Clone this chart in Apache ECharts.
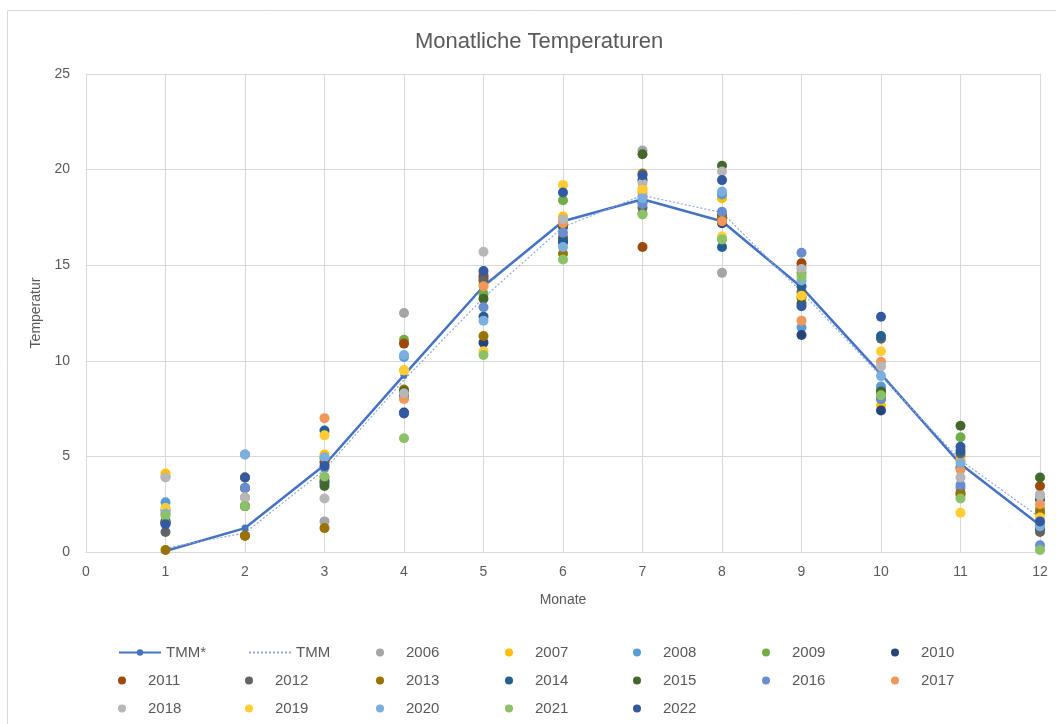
<!DOCTYPE html>
<html>
<head>
<meta charset="utf-8">
<script src="https://cdn.jsdelivr.net/npm/echarts@6/dist/echarts.min.js"></script>
<style>html,body{margin:0;padding:0;background:#fff;}#c{width:1056px;height:724px;}</style>
</head>
<body>
<div id="c"></div>
<script>
const months = [1,2,3,4,5,6,7,8,9,10,11,12];
const tmmStar = [0.05, 1.25, 4.55, 9.25, 13.9, 17.3, 18.45, 17.3, 13.85, 9.3, 4.6, 1.4];
const tmm     = [0.2, 1.0, 4.3, 9.0, 13.3, 17.0, 18.65, 17.75, 13.6, 9.2, 4.8, 1.8];

const y2006 = [3.95, 2.85, 1.6, 12.5, 14.3, 17.3, 21.0, 14.6, 14.9, 8.5, 5.0, 3.0];
const y2007 = [4.1, 3.35, 5.1, 9.5, 14.0, 17.55, 19.0, 18.5, 13.45, 7.65, 4.8, 2.0];
const y2008 = [2.6, 5.1, 4.9, 10.2, 14.5, 17.0, 18.6, 18.7, 11.75, 8.65, 3.35, 1.4];
const y2009 = [1.6, 2.4, 3.9, 11.1, 13.5, 18.4, 17.7, 16.4, 14.6, 8.3, 6.0, 2.25];
const y2010 = [1.5, 3.9, 3.7, 7.3, 10.95, 16.2, 19.45, 17.2, 11.35, 7.4, 4.4, 1.2];
const y2011 = [1.55, 0.85, 4.7, 10.9, 14.4, 16.45, 15.95, 17.6, 15.1, 8.1, 3.0, 3.45];
const y2012 = [1.05, 3.9, 3.6, 8.3, 14.2, 17.0, 18.0, 17.3, 13.6, 11.15, 5.15, 1.05];
const y2013 = [0.1, 0.85, 1.25, 8.5, 11.3, 15.6, 19.8, 17.45, 13.3, 8.0, 3.1, 2.1];
const y2014 = [2.2, 3.35, 6.35, 8.2, 12.3, 16.3, 18.3, 15.95, 13.9, 11.3, 5.3, 2.75];
const y2015 = [1.6, 2.4, 3.45, 8.4, 13.25, 17.1, 20.8, 20.2, 13.0, 8.4, 6.6, 3.9];
const y2016 = [1.5, 3.35, 4.4, 8.05, 12.8, 16.7, 18.2, 17.8, 15.65, 8.0, 3.5, 0.35];
const y2017 = [2.0, 2.85, 7.0, 8.0, 13.9, 17.2, 18.8, 17.3, 12.1, 9.95, 4.3, 2.5];
const y2018 = [3.9, 2.85, 2.8, 8.3, 15.7, 17.4, 19.3, 19.9, 14.8, 9.7, 3.9, 2.95];
const y2019 = [2.3, 3.9, 6.1, 9.5, 10.5, 19.2, 18.95, 16.5, 13.4, 10.5, 2.05, 1.8];
const y2020 = [2.0, 5.1, 4.95, 10.3, 12.1, 15.95, 18.5, 18.85, 14.2, 9.2, 4.65, 1.35];
const y2021 = [1.9, 2.4, 3.95, 5.95, 10.3, 15.3, 17.65, 16.35, 14.4, 8.2, 2.8, 0.1];
const y2022 = [1.45, 3.9, 4.5, 7.25, 14.7, 18.8, 19.7, 19.45, 12.85, 12.3, 5.5, 1.6];

const yearNames = ['2006','2007','2008','2009','2010','2011','2012','2013','2014','2015','2016','2017','2018','2019','2020','2021','2022'];
const yearValues = [y2006,y2007,y2008,y2009,y2010,y2011,y2012,y2013,y2014,y2015,y2016,y2017,y2018,y2019,y2020,y2021,y2022];
const yearColors = ['#A5A5A5','#FFC000','#5B9BD5','#70AD47','#264478','#9E480E','#636363','#997300','#255E91','#43682B','#698ED0','#F1975A','#B7B7B7','#FFCD33','#7CAFDD','#8CC168','#335AA1'];

const textColor = '#595959';
const gridColor = '#d9d9d9';
const FONT = 'Liberation Sans, Arial, sans-serif';

function pairs(vals){ return months.map((m,i)=>[m, vals[i]]); }

const series = [
  { name:'TMM*', type:'line', data:pairs(tmmStar), color:'#4472C4',
    lineStyle:{width:2.5,color:'#4472C4'}, symbol:'circle', symbolSize:7,
    itemStyle:{color:'#4472C4'}, z:2 },
  { name:'TMM', type:'line', data:pairs(tmm), color:'#8FAADC',
    lineStyle:{width:1.2,color:'#8FAADC',type:[2,2]}, symbol:'none', z:2 }
];
yearNames.forEach((n,i)=>{
  series.push({ name:n, type:'scatter', data:pairs(yearValues[i]), symbol:'circle', symbolSize:10,
    itemStyle:{color:yearColors[i], opacity:1}, color:yearColors[i], z:3 });
});

// legend layout: 3 rows x 7 columns
const legendOrder = ['TMM*','TMM'].concat(yearNames);
const colDotCenters = [139, 266, 397, 526, 654, 783, 912];
const rowCenters = [651, 679, 707];
const legends = legendOrder.map((name, k)=>{
  const r = Math.floor(k/7), c = k%7;
  const isLine = (name==='TMM*' || name==='TMM');
  let left;
  if (isLine) left = (name==='TMM*') ? 118 : 248;
  else left = colDotCenters[c] - 21;
  const item = (name==='TMM') ? {name:name, itemStyle:{opacity:0}} : name;
  return {
    data:[item], left:left, top:rowCenters[r]-6, itemWidth:42, itemHeight:8,
    itemGap:0, padding:0, selectedMode:false,
    textStyle:{color:textColor, fontSize:15, fontFamily:FONT, padding:[0,0,0,0]}
  };
});

const chart = echarts.init(document.getElementById('c'), null, {renderer:'canvas'});
chart.setOption({
  animation:false,
  backgroundColor:'#fff',
  title:{ text:'Monatliche Temperaturen', left:410, top:26,
    textStyle:{color:textColor, fontSize:22, fontWeight:'normal', fontFamily:FONT} },
  graphic:[{ type:'rect', shape:{x:7.5, y:10.5, width:1200, height:900},
    style:{fill:'none', stroke:gridColor, lineWidth:1}, silent:true }],
  grid:{ left:86, right:16, top:74, bottom:172, containLabel:false },
  xAxis:{ type:'value', min:0, max:12, interval:1,
    name:'Monate', nameLocation:'middle', nameGap:41,
    nameTextStyle:{color:textColor, fontSize:14, fontFamily:FONT},
    axisLine:{show:true, lineStyle:{color:gridColor}}, axisTick:{show:false},
    axisLabel:{color:textColor, fontSize:14, fontFamily:FONT, margin:13},
    splitLine:{show:true, lineStyle:{color:gridColor, width:1}} },
  yAxis:{ type:'value', min:0, max:25, interval:5,
    name:'Temperatur', nameLocation:'middle', nameGap:34, nameRotate:90,
    nameTextStyle:{color:textColor, fontSize:14, fontFamily:FONT},
    axisLine:{show:false}, axisTick:{show:false},
    axisLabel:{color:textColor, fontSize:14, fontFamily:FONT, margin:16},
    splitLine:{show:true, lineStyle:{color:gridColor, width:1}} },
  legend: legends,
  series: series
});
</script>
</body>
</html>
